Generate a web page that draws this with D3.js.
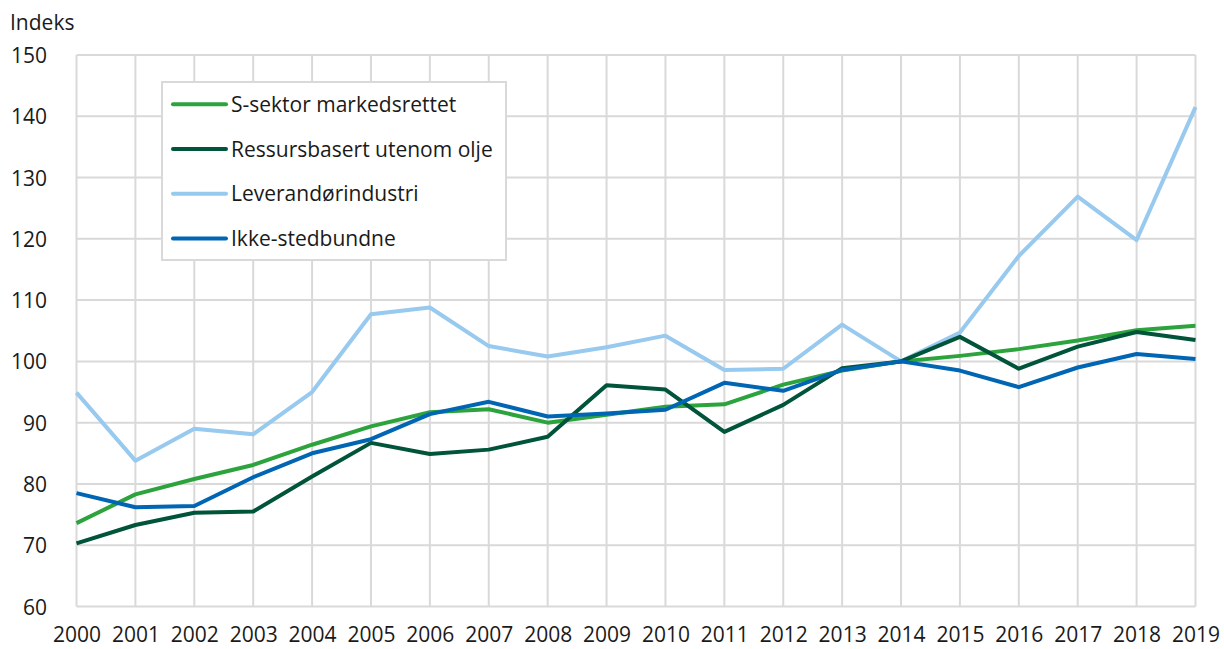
<!DOCTYPE html>
<html>
<head>
<meta charset="utf-8">
<script src="https://cdn.jsdelivr.net/npm/d3@7"></script>
<style>
  body { margin: 0; background: #fff; }
  svg { display: block; font-family: "Open Sans", "Noto Sans", sans-serif; }
</style>
</head>
<body>
<div id="container"></div>
<script>
// data (index, 2014 = 100)
var years = [2000, 2001, 2002, 2003, 2004, 2005, 2006, 2007, 2008, 2009,
             2010, 2011, 2012, 2013, 2014, 2015, 2016, 2017, 2018, 2019];
var sSektor = [73.6, 78.3, 80.8, 83.1, 86.4, 89.4, 91.7, 92.2, 90.0, 91.3,
               92.6, 93.0, 96.2, 98.5, 100, 100.9, 102.0, 103.4, 105.1, 105.8];
var ressurs = [70.3, 73.3, 75.3, 75.5, 81.2, 86.7, 84.9, 85.6, 87.7, 96.1,
               95.4, 88.5, 92.9, 98.9, 100, 104.0, 98.8, 102.4, 104.8, 103.5];
var leverandor = [94.9, 83.8, 89.0, 88.1, 95.0, 107.7, 108.8, 102.5, 100.8, 102.3,
                  104.2, 98.6, 98.8, 106.0, 100, 104.7, 117.2, 126.9, 119.8, 141.5];
var ikkeSted = [78.5, 76.2, 76.4, 81.1, 85.0, 87.3, 91.4, 93.4, 91.0, 91.5,
                92.1, 96.5, 95.2, 98.6, 100, 98.5, 95.8, 99.0, 101.2, 100.4];
var yTicks = [60, 70, 80, 90, 100, 110, 120, 130, 140, 150];

var seriesNames = ["S-sektor markedsrettet", "Ressursbasert utenom olje", "Leverandørindustri", "Ikke-stedbundne"];
var seriesColors = ["#2ca33c", "#00543a", "#98c9ee", "#0066b3"];
var seriesValues = [sSektor, ressurs, leverandor, ikkeSted];
var drawOrder = [2, 0, 1, 3];

var w = 1224, h = 649;
var fs = 21;
var svg = d3.select("#container").append("svg")
    .attr("width", w).attr("height", h);

var x = d3.scaleLinear().domain([2000, 2019]).range([76.5, 1195.5]);
var y = d3.scaleLinear().domain([60, 150]).range([606.5, 55]);

// grid
var grid = svg.append("g").attr("class", "grid");
grid.selectAll("line.h").data(yTicks).enter().append("line")
    .attr("class", "h")
    .attr("x1", x(2000)).attr("x2", x(2019))
    .attr("y1", function(d) { return y(d); }).attr("y2", function(d) { return y(d); })
    .attr("stroke", "#d9d9d9").attr("stroke-width", 2);
grid.selectAll("line.v").data(years).enter().append("line")
    .attr("class", "v")
    .attr("x1", function(d) { return x(d); }).attr("x2", function(d) { return x(d); })
    .attr("y1", y(150)).attr("y2", y(60))
    .attr("stroke", "#d9d9d9").attr("stroke-width", 2);

// axes (labels only)
var yAxis = svg.append("g")
    .attr("transform", "translate(" + 47 + ",0)")
    .call(d3.axisLeft(y).tickValues(yTicks).tickSize(0).tickPadding(0));
yAxis.select(".domain").remove();
yAxis.selectAll("text")
    .attr("font-size", fs).attr("font-family", "Open Sans").attr("fill", "#1a1a1a")
    .attr("dy", "0.36em");

var xAxis = svg.append("g")
    .attr("transform", "translate(0," + 627.5 + ")")
    .call(d3.axisBottom(x).tickValues(years).tickFormat(d3.format("d")).tickSize(0).tickPadding(0));
xAxis.select(".domain").remove();
xAxis.selectAll("text")
    .attr("font-size", fs).attr("font-family", "Open Sans").attr("fill", "#1a1a1a");

svg.append("text")
    .attr("x", 10).attr("y", 29.5)
    .attr("font-size", fs).attr("fill", "#1a1a1a")
    .text("Indeks");

// lines
var line = d3.line()
    .x(function(d, i) { return x(years[i]); })
    .y(function(d) { return y(d); });

svg.append("g").selectAll("path")
    .data(drawOrder)
    .enter().append("path")
    .attr("d", function(k) { return line(seriesValues[k]); })
    .attr("fill", "none")
    .attr("stroke", function(k) { return seriesColors[k]; })
    .attr("stroke-width", 4)
    .attr("stroke-linejoin", "round");

// legend
var legend = svg.append("g").attr("class", "legend");
legend.append("rect")
    .attr("x", 162).attr("y", 82).attr("width", 344).attr("height", 178)
    .attr("fill", "#fff").attr("stroke", "#d9d9d9").attr("stroke-width", 2);
var items = legend.selectAll("g.item").data(seriesNames)
    .enter().append("g").attr("class", "item")
    .attr("transform", function(d, i) { return "translate(0," + (104.3 + i * 44.7) + ")"; });
items.append("line")
    .attr("x1", 173).attr("x2", 226).attr("y1", 0).attr("y2", 0)
    .attr("stroke", function(d, i) { return seriesColors[i]; })
    .attr("stroke-width", 4).attr("stroke-linecap", "round");
items.append("text")
    .attr("x", 231).attr("y", 0).attr("dy", "0.36em")
    .attr("font-size", fs).attr("fill", "#1a1a1a")
    .text(function(d) { return d; });
</script>
</body>
</html>
